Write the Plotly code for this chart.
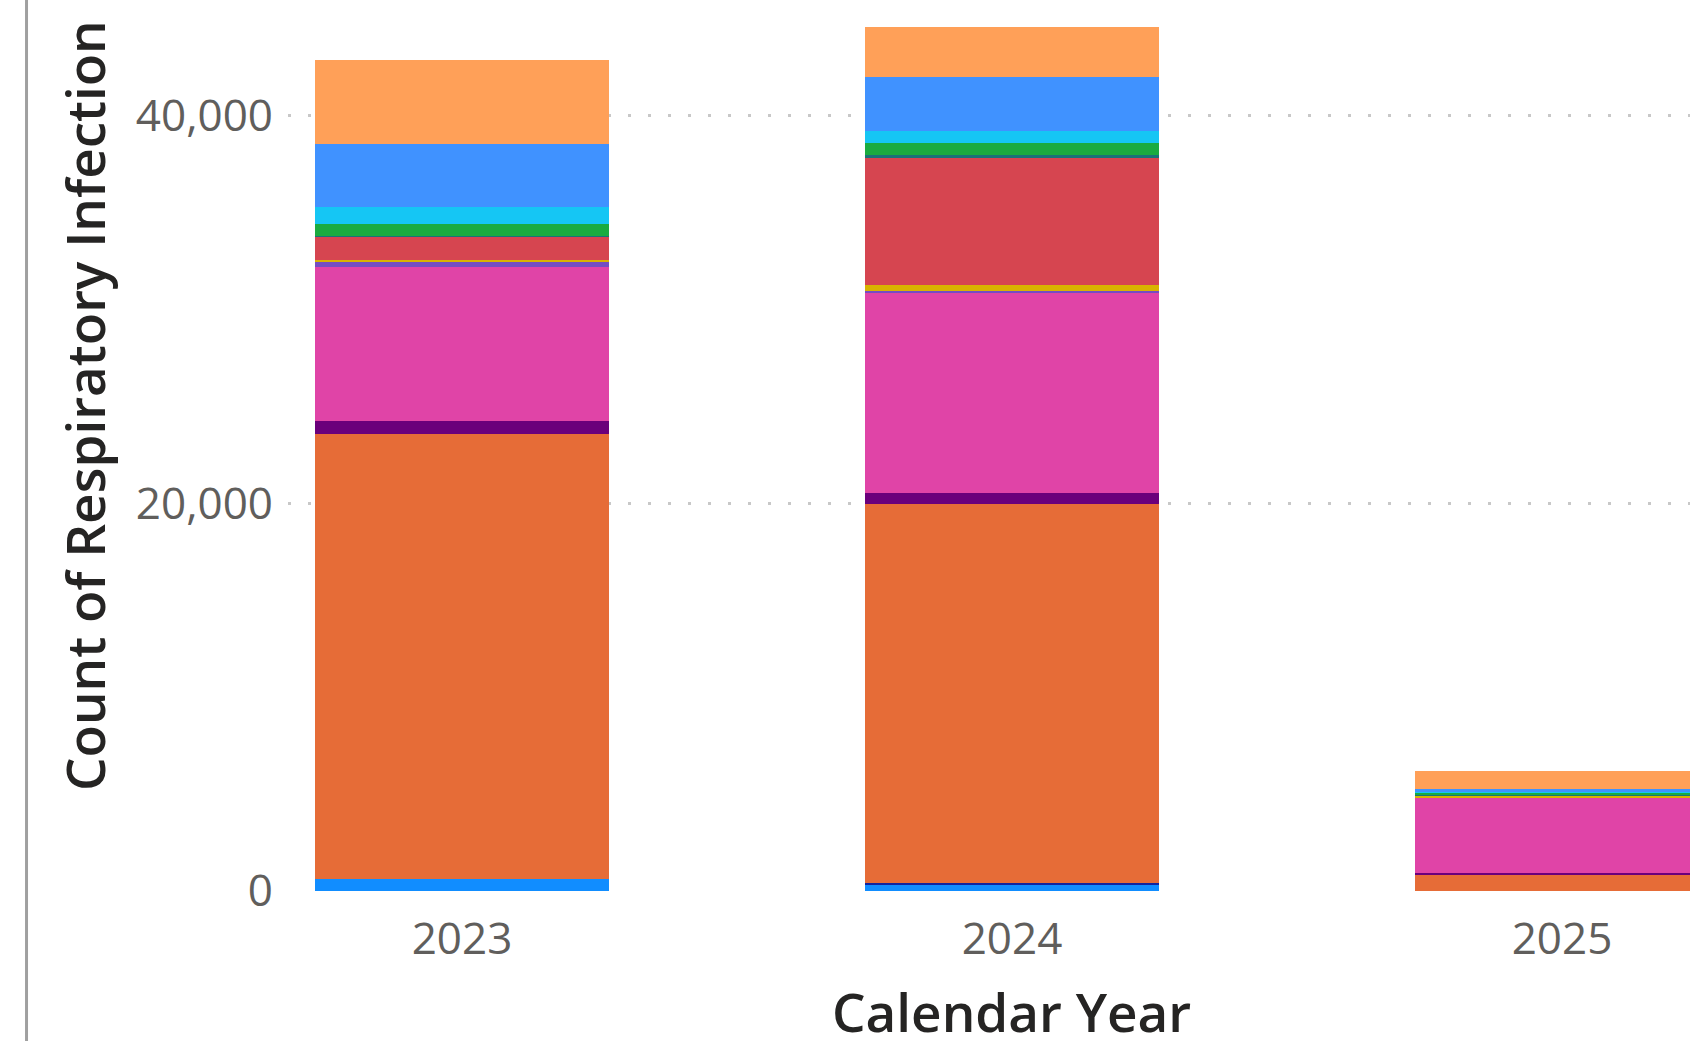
import plotly.graph_objects as go

years = ["2023", "2024", "2025"]

series_names = [
    "Series 1", "Series 2", "Series 3", "Series 4", "Series 5", "Series 6", "Series 7",
    "Series 8", "Series 9", "Series 10", "Series 11", "Series 12", "Series 13",
]
series_colors = [
    "#118DFF", "#12239E", "#E66C37", "#6B007B", "#E044A7", "#744EC2", "#D9B300",
    "#D64550", "#197278", "#1AAB40", "#15C6F4", "#4092FF", "#FFA058",
]
s1 = [630, 360, 15]
s2 = [10, 50, 5]
s3 = [22913, 19547, 840]
s4 = [670, 567, 80]
s5 = [7942, 10314, 3883]
s6 = [255, 104, 18]
s7 = [105, 309, 65]
s8 = [1235, 6550, 45]
s9 = [50, 155, 45]
s10 = [570, 619, 95]
s11 = [880, 618, 45]
s12 = [3250, 2786, 100]
s13 = [4330, 2578, 928]
series_values = [s1, s2, s3, s4, s5, s6, s7, s8, s9, s10, s11, s12, s13]

y_ticks = [0, 20000, 40000]
y_tick_text = ["0", "20,000", "40,000"]

x_title = "Calendar Year"
y_title = "Count of Respiratory Infection"

fig = go.Figure()
for name, color, vals in zip(series_names, series_colors, series_values):
    fig.add_trace(go.Bar(
        x=years, y=vals, name=name,
        marker=dict(color=color, line=dict(width=0)),
        showlegend=False,
    ))

tick_font = dict(family="Open Sans, Noto Sans, sans-serif", size=44, color="#605E5C")
title_font = dict(family="Open Sans, Noto Sans, sans-serif", size=53, color="#252423", weight=600)

fig.update_layout(
    width=1690, height=1041,
    margin=dict(l=288, r=0, t=0, b=150, pad=0),
    barmode="stack",
    bargap=0.465,
    plot_bgcolor="white",
    paper_bgcolor="white",
    xaxis=dict(
        type="category",
        range=[-0.3164, 2.2327],
        showgrid=False, showline=False, zeroline=False,
        ticks="", tickfont=tick_font,
        ticklabelstandoff=18,
    ),
    yaxis=dict(
        range=[0, 45957],
        tickvals=y_ticks, ticktext=y_tick_text,
        showgrid=True, gridcolor="#C8C8C8", gridwidth=3, griddash="3px,17px",
        showline=False, zeroline=False,
        ticks="", tickfont=tick_font,
        ticklabelstandoff=14,
    ),
    annotations=[
        dict(text=x_title, xref="paper", yref="paper", x=0.5164, y=-0.1358,
             xanchor="center", yanchor="middle", showarrow=False, font=title_font),
        dict(text=y_title, xref="paper", yref="paper", x=-0.1455, y=0.5443,
             xanchor="center", yanchor="middle", textangle=-90, showarrow=False,
             font=title_font),
    ],
    shapes=[dict(
        type="line", xref="paper", yref="paper",
        x0=-0.1865, x1=-0.1865, y0=-0.2, y1=1.05,
        line=dict(color="#A0A0A0", width=3),
    )],
)

fig.write_html(
    "out.html",
    config={"displayModeBar": False},
    post_script="document.body.style.margin='0';document.body.style.overflow='hidden';",
)
